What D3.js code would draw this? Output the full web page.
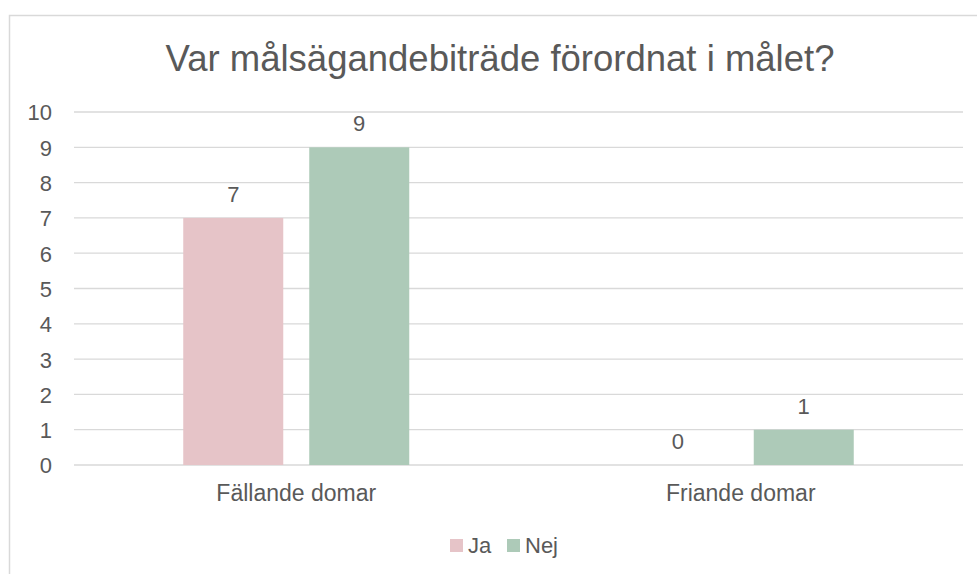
<!DOCTYPE html>
<html>
<head>
<meta charset="utf-8">
<script src="https://cdn.jsdelivr.net/npm/d3@7"></script>
<style>
  body { margin: 0; background: #fff; }
  text { font-family: "Liberation Sans", Arial, sans-serif; fill: #595959; }
</style>
</head>
<body>
<div id="chart"></div>
<script>
// data
var categories = ["Fällande domar", "Friande domar"];
var seriesNames = ["Ja", "Nej"];
var jaValues = [7, 0];
var nejValues = [9, 1];
var yTicks = [0, 1, 2, 3, 4, 5, 6, 7, 8, 9, 10];
var colors = ["#e6c4c8", "#adcab8"];

var W = 977, H = 574;
var margin = { top: 112, right: 14, bottom: 109, left: 74 },
    width = 963 - margin.left,
    height = 465 - margin.top;

var svg = d3.select("#chart").append("svg")
    .attr("width", W)
    .attr("height", H);

// chart border
svg.append("path")
    .attr("d", "M9.5," + H + "V15.5H" + W)
    .attr("fill", "none")
    .attr("stroke", "#d9d9d9")
    .attr("stroke-width", 1.5);

// title
svg.append("text")
    .attr("x", 500)
    .attr("y", 71)
    .attr("text-anchor", "middle")
    .style("font-size", "36.5px")
    .text("Var målsägandebiträde förordnat i målet?");

var g = svg.append("g")
    .attr("transform", "translate(" + margin.left + "," + margin.top + ")");

var x0 = d3.scaleBand().domain(categories).range([0, width]);
var x1 = d3.scaleBand().domain(seriesNames).range([0, 226]).paddingInner(0.2063);
var y = d3.scaleLinear().domain([0, 10]).range([height, 0]);

// gridlines
g.selectAll(".grid")
    .data(yTicks)
    .enter().append("line")
    .attr("x1", 0).attr("x2", width)
    .attr("y1", function (d) { return y(d); })
    .attr("y2", function (d) { return y(d); })
    .attr("stroke", "#d9d9d9")
    .attr("stroke-width", 1.3);

// y axis labels
var yAxis = g.append("g")
    .attr("transform", "translate(-22,0)")
    .call(d3.axisLeft(y).tickValues(yTicks).tickSize(0).tickPadding(0));
yAxis.select(".domain").remove();
yAxis.selectAll("text")
    .attr("font-family", null)
    .style("font-size", "22px")
    .attr("dy", "0.36em");

// x axis labels
var xAxis = g.append("g")
    .attr("transform", "translate(0," + height + ")")
    .call(d3.axisBottom(x0).tickSize(0).tickPadding(0));
xAxis.select(".domain").remove();
xAxis.selectAll("text")
    .attr("font-family", null)
    .style("font-size", "23px")
    .attr("y", 36)
    .attr("dy", 0);

// bars
var rows = categories.map(function (c, i) {
    return { cat: c, vals: [{ s: "Ja", v: jaValues[i] }, { s: "Nej", v: nejValues[i] }] };
});

var groups = g.selectAll(".group")
    .data(rows)
    .enter().append("g")
    .attr("transform", function (d) {
        return "translate(" + (x0(d.cat) + x0.bandwidth() / 2 - 113) + ",0)";
    });

groups.selectAll("rect")
    .data(function (d) { return d.vals; })
    .enter().append("rect")
    .attr("x", function (d) { return x1(d.s); })
    .attr("y", function (d) { return y(d.v); })
    .attr("width", x1.bandwidth())
    .attr("height", function (d) { return height - y(d.v); })
    .attr("fill", function (d, i) { return colors[i]; });

// value labels
groups.selectAll(".val")
    .data(function (d) { return d.vals; })
    .enter().append("text")
    .attr("x", function (d) { return x1(d.s) + x1.bandwidth() / 2; })
    .attr("y", function (d) { return y(d.v) - 16; })
    .attr("text-anchor", "middle")
    .style("font-size", "22px")
    .text(function (d) { return d.v; });

// legend
var legend = svg.append("g").attr("transform", "translate(450,539)");
var items = legend.selectAll(".item")
    .data(seriesNames)
    .enter().append("g")
    .attr("transform", function (d, i) { return "translate(" + (i * 57) + ",0)"; });
items.append("rect")
    .attr("width", 13).attr("height", 13)
    .attr("fill", function (d, i) { return colors[i]; });
items.append("text")
    .attr("x", 18)
    .attr("y", 14)
    .style("font-size", "22px")
    .text(function (d) { return d; });
</script>
</body>
</html>
